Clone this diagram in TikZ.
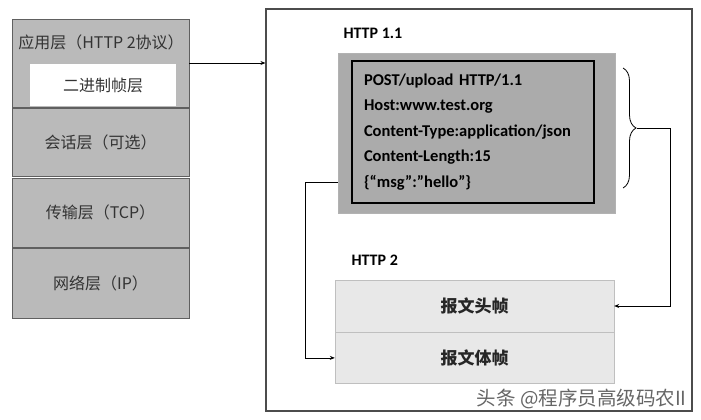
\documentclass[tikz,border=0pt]{standalone}
\usepackage{fontspec}
\setmainfont{Carlito}
\newfontfamily\cjk{Noto Sans CJK SC}
\usepackage{tikz}
\usetikzlibrary{positioning}
\usetikzlibrary{decorations.pathreplacing,arrows.meta}

\begin{document}
\begin{tikzpicture}[x=1pt,y=-1pt,
   layer/.style={draw=gray!75!black,fill=black!27,minimum width=177pt,text=black!80,
     font=\cjk\fontsize{16}{16}\selectfont},
   frame/.style={draw=black!25,fill=black!9,minimum width=279pt,
     font=\cjk\bfseries\fontsize{17}{17}\selectfont,text=black!85},
   link/.style={-{Stealth[length=5pt,width=4pt]},line width=0.8pt}]
   \useasboundingbox (0,0) rectangle (701,420);
   \node[draw=black!70,line width=1.1pt,minimum width=426pt,minimum height=402pt] (outer) at (479,210) {};
   \node[layer,minimum height=88pt] (app) at (100.5,63) {};
   \node[font=\cjk\fontsize{16}{16}\selectfont,text=black!80] (applbl) at (101,42) {应用层（HTTP 2协议）};
   \node[fill=white,minimum width=146pt,minimum height=42pt,font=\cjk\fontsize{16}{16}\selectfont,text=black!80] (bin) at (103,85) {二进制帧层};
   \node[layer,minimum height=68pt,below=1pt of app] (session) {会话层（可选）};
   \node[layer,minimum height=69pt,below=1pt of session] (tcp) {传输层（TCP）};
   \node[layer,minimum height=70pt,below=1pt of tcp] (ip) {网络层（IP）};
   \node[font=\bfseries\fontsize{16}{16}\selectfont,anchor=west] (h11) at (340,33) {HTTP 1.1};
   \node[draw=black!30,fill=black!33,minimum width=277pt,minimum height=160pt] (msgbox) at (476.5,133) {};
   \node[draw,line width=1.1pt,text width=218pt,inner xsep=12pt,minimum height=142pt,align=left,
     font=\bfseries\fontsize{16.5}{25.5}\selectfont] (req) at (473,132)
     {POST/upload HTTP/1.1\\Host:www.test.org\\Content-Type:application/json\\Content-Length:15\\\{“msg”:”hello”\}};
   \node[font=\bfseries\fontsize{16}{16}\selectfont,anchor=west] (h2) at (348,260) {HTTP 2};
   \node[frame,minimum height=52pt] (hdr) at (474.5,306) {报文头帧};
   \node[frame,minimum height=51pt,below=0pt of hdr] (body) {报文体帧};
   \coordinate (btop) at (623,68);
   \coordinate (bbot) at (623,188);
   \coordinate (btip) at (637,128);
   \draw[decorate,decoration={brace,amplitude=13pt},line width=0.8pt] (btop) -- (bbot);
   \draw[link] (app.east) -- (app.east -| outer.west);
   \draw[link] (btip) -- ++(33,0) |- (hdr.east);
   \draw[link] (msgbox.south west) ++(0,-31) -- ++(-32,0) |- (body.west);
   \node[font=\cjk\fontsize{19.5}{19.5}\selectfont,text=black!60,anchor=east] (mark) at (690,399) {头条 @程序员高级码农II};
\end{tikzpicture}
\end{document}
